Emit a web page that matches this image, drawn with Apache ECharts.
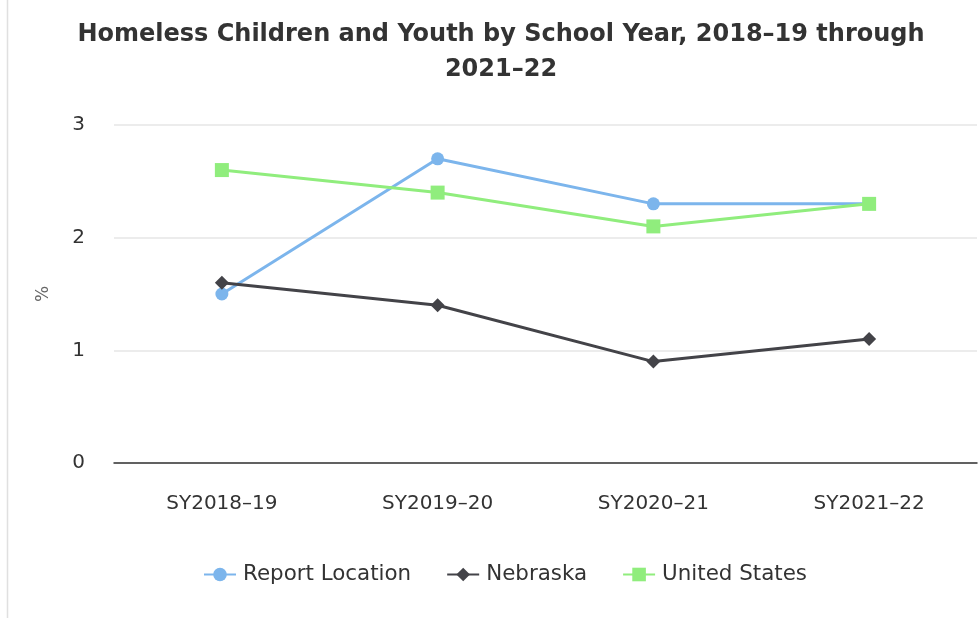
<!DOCTYPE html>
<html><head><meta charset="utf-8">
<script src="https://cdn.jsdelivr.net/npm/echarts@6/dist/echarts.min.js"></script>
<style>html,body{margin:0;padding:0;background:#fff}#c{width:980px;height:621px}</style>
</head><body><div id="c"></div>
<script>
const categories = ['SY2018\u201319', 'SY2019\u201320', 'SY2020\u201321', 'SY2021\u201322'];
const reportLocation = [1.5, 2.7, 2.3, 2.3];
const nebraska = [1.6, 1.4, 0.9, 1.1];
const unitedStates = [2.6, 2.4, 2.1, 2.3];
const yTicks = [0, 1, 2, 3];
const FONT = '"DejaVu Sans", sans-serif';

const chart = echarts.init(document.getElementById('c'));
chart.setOption({
  animation: false,
  title: {
    text: 'Homeless Children and Youth by School Year, 2018\u201319 through\n2021\u201322',
    left: 501, textAlign: 'center', top: 17, padding: 0,
    textStyle: { fontFamily: FONT, fontSize: 24, fontWeight: 'bold', color: '#333', lineHeight: 35 }
  },
  legend: {
    bottom: 36, left: 203, padding: 0, itemGap: 35, itemWidth: 32, itemHeight: 17,
    textStyle: { fontFamily: FONT, fontSize: 21.4, color: '#333', padding: [0, 0, 0, 2] },
    data: ['Report Location', 'Nebraska', 'United States']
  },
  grid: { left: 114, right: 3, top: 125, bottom: 158 },
  xAxis: {
    type: 'category', data: categories, boundaryGap: true,
    axisLine: { lineStyle: { color: '#333', width: 1.5 } },
    axisTick: { show: false },
    axisLabel: { fontFamily: FONT, fontSize: 20, color: '#333', margin: 31 }
  },
  yAxis: {
    type: 'value', min: yTicks[0], max: yTicks[yTicks.length - 1], interval: 1,
    name: '%', nameLocation: 'middle', nameGap: 62, nameRotate: 90,
    nameTextStyle: { fontFamily: FONT, fontSize: 17, color: '#666' },
    axisLine: { show: false }, axisTick: { show: false },
    axisLabel: { fontFamily: FONT, fontSize: 20, color: '#333', margin: 29 },
    splitLine: { lineStyle: { color: '#e6e6e6', width: 1.5 } }
  },
  graphic: [{ type: 'line', shape: { x1: 7.5, y1: 0, x2: 7.5, y2: 618 }, style: { stroke: '#e0e0e0', lineWidth: 1.5 } }],
  series: [
    { name: 'Report Location', type: 'line', data: reportLocation, symbol: 'circle', symbolSize: 13,
      itemStyle: { color: '#7cb5ec' }, lineStyle: { width: 3, color: '#7cb5ec' } },
    { name: 'Nebraska', type: 'line', data: nebraska, symbol: 'diamond', symbolSize: 14,
      itemStyle: { color: '#434348' }, lineStyle: { width: 3, color: '#434348' } },
    { name: 'United States', type: 'line', data: unitedStates, symbol: 'rect', symbolSize: 14,
      itemStyle: { color: '#90ed7d' }, lineStyle: { width: 3, color: '#90ed7d' } }
  ]
});
</script></body></html>
